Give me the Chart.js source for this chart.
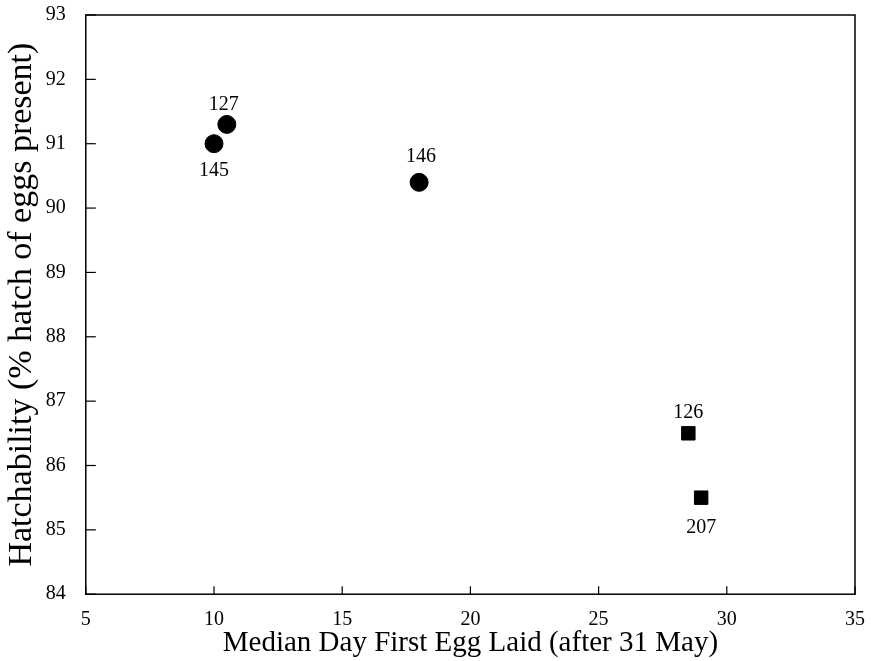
<!DOCTYPE html>
<html><head><meta charset="utf-8">
<script src="https://cdn.jsdelivr.net/npm/chart.js@4/dist/chart.umd.min.js"></script>
<style>html,body{margin:0;padding:0;background:#fff}#wrap{width:871px;height:661px}</style>
</head><body><div id="wrap"><canvas id="c" width="871" height="661"></canvas></div>
<script>
const circleX = [10, 10.5, 18];
const circleY = [91.0, 91.3, 90.4];
const circleLabels = ["145", "127", "146"];
const squareX = [28.5, 29];
const squareY = [86.5, 85.5];
const squareLabels = ["126", "207"];
const xTicks = [5, 10, 15, 20, 25, 30, 35];
const yTicks = [84, 85, 86, 87, 88, 89, 90, 91, 92, 93];

// label baseline offsets (pixels) relative to the marker centre
const labelOffset = { "145": [0, 32], "127": [-3, -14], "146": [2, -20], "126": [0, -15], "207": [0, 35] };
const FONT = "'Liberation Serif', 'Times New Roman', serif";

const frame = {
  id: 'frame',
  afterDraw(chart) {
    const { ctx, chartArea: a, scales } = chart;
    ctx.save();
    ctx.strokeStyle = '#000';
    ctx.lineWidth = 1.5;
    ctx.strokeRect(a.left, a.top, a.right - a.left, a.bottom - a.top);
    ctx.lineWidth = 1.2;
    yTicks.forEach(v => {
      const y = scales.y.getPixelForValue(v);
      ctx.beginPath(); ctx.moveTo(a.left, y); ctx.lineTo(a.left + 10, y); ctx.stroke();
    });
    xTicks.forEach(v => {
      const x = scales.x.getPixelForValue(v);
      ctx.beginPath(); ctx.moveTo(x, a.bottom); ctx.lineTo(x, a.bottom - 8); ctx.stroke();
    });
    ctx.fillStyle = '#000';
    ctx.font = "20px " + FONT;
    ctx.textAlign = 'center';
    ctx.textBaseline = 'alphabetic';
    chart.data.datasets.forEach((ds, di) => {
      const meta = chart.getDatasetMeta(di);
      meta.data.forEach((pt, i) => {
        const lab = ds.labelsText[i];
        const off = labelOffset[lab];
        ctx.fillText(lab, pt.x + off[0], pt.y + off[1]);
      });
    });
    ctx.restore();
  }
};

new Chart(document.getElementById('c'), {
  type: 'scatter',
  data: {
    datasets: [
      { data: circleX.map((x, i) => ({ x, y: circleY[i] })), labelsText: circleLabels,
        pointStyle: 'circle', pointRadius: 9, pointHoverRadius: 9, backgroundColor: '#000', borderColor: '#000' },
      { data: squareX.map((x, i) => ({ x, y: squareY[i] })), labelsText: squareLabels,
        pointStyle: 'rect', pointRadius: 9.5, pointHoverRadius: 9.5, backgroundColor: '#000', borderColor: '#000' }
    ]
  },
  options: {
    responsive: false, animation: false,
    layout: { padding: { left: 2, right: 16, top: 0, bottom: 0 } },
    plugins: { legend: { display: false }, tooltip: { enabled: false } },
    scales: {
      x: {
        type: 'linear', min: 5, max: 35,
        afterBuildTicks: s => { s.ticks = xTicks.map(v => ({ value: v })); },
        grid: { display: true, drawOnChartArea: false, drawTicks: true, tickLength: 11, color: 'rgba(0,0,0,0)' },
        border: { display: false },
        ticks: { color: '#000', font: { family: FONT, size: 20 }, padding: 3 },
        title: { display: true, text: 'Median Day First Egg Laid (after 31 May)', color: '#000',
                 font: { family: FONT, size: 29 }, padding: { top: -9, bottom: 0 } }
      },
      y: {
        type: 'linear', min: 84, max: 93,
        afterBuildTicks: s => { s.ticks = yTicks.map(v => ({ value: v })); },
        grid: { display: true, drawOnChartArea: false, drawTicks: true, tickLength: 17, color: 'rgba(0,0,0,0)' },
        border: { display: false },
        ticks: { color: '#000', font: { family: FONT, size: 20 }, padding: 3 },
        title: { display: true, text: 'Hatchability (% hatch of eggs present)', color: '#000',
                 font: { family: FONT, size: 34 }, padding: { top: 0, bottom: 0 } }
      }
    }
  },
  plugins: [frame]
});
</script></body></html>
